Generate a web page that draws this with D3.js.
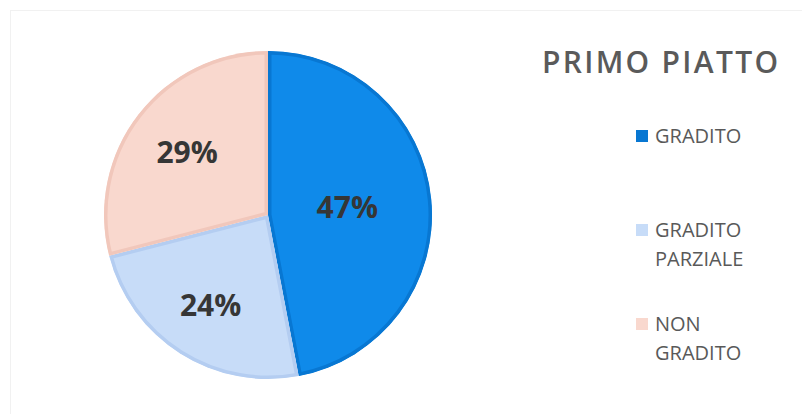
<!DOCTYPE html>
<html>
<head>
<meta charset="utf-8">
<script src="https://cdn.jsdelivr.net/npm/d3@7/dist/d3.min.js"></script>
<style>
  html, body { margin: 0; padding: 0; background: #ffffff; }
  svg { display: block; }
</style>
</head>
<body>
<svg id="chart" width="802" height="414"></svg>
<script>
// Survey results for the first course
const title = "PRIMO PIATTO";
const categories = ["GRADITO", "GRADITO PARZIALE", "NON GRADITO"];
const shares = [47, 24, 29];
const fillColors = ["#0f8aea", "#c7dcf8", "#f9d8ce"];
const edgeColors = ["#0877d2", "#b4cdf1", "#f1c7bb"];

const svg = d3.select("#chart");
const W = 802, H = 414;

// faint frame
svg.append("rect")
  .attr("x", 10.5).attr("y", 10.5)
  .attr("width", W).attr("height", H)
  .attr("fill", "none")
  .attr("stroke", "#f1f1f1");

const cx = 268, cy = 215, radius = 164;

const data = categories.map((c, i) => ({ name: c, value: shares[i], i }));

const pie = d3.pie().sort(null).value(d => d.value);
const arc = d3.arc().innerRadius(0).outerRadius(radius);
const arcs = pie(data);

const g = svg.append("g").attr("transform", `translate(${cx},${cy})`);
const defs = svg.append("defs");

arcs.forEach((a, k) => {
  defs.append("clipPath").attr("id", "slice-clip-" + k)
    .append("path").attr("d", arc(a));
});

// slices with an inner darker rim
g.selectAll("path.slice")
  .data(arcs)
  .join("path")
  .attr("class", "slice")
  .attr("d", arc)
  .attr("clip-path", (d, k) => `url(#slice-clip-${k})`)
  .attr("fill", d => fillColors[d.data.i])
  .attr("stroke", d => edgeColors[d.data.i])
  .attr("stroke-width", 7)
  .attr("stroke-linejoin", "round");

// percentage labels placed near each sector's area centroid
const total = d3.sum(shares);
g.selectAll("text.pct")
  .data(arcs)
  .join("text")
  .attr("class", "pct")
  .attr("transform", d => {
    const span = d.endAngle - d.startAngle;
    const mid = (d.startAngle + d.endAngle) / 2;
    const r = 1.08 * (4 * radius * Math.sin(span / 2)) / (3 * span);
    return `translate(${r * Math.sin(mid)},${-r * Math.cos(mid)})`;
  })
  .attr("text-anchor", "middle")
  .attr("dy", "0.36em")
  .attr("font-family", "'Open Sans', sans-serif")
  .attr("font-weight", 700)
  .attr("font-size", 30)
  .attr("fill", "#363636")
  .text(d => Math.round(d.data.value / total * 100) + "%");

// title
svg.append("text")
  .attr("x", 542).attr("y", 73)
  .attr("font-family", "'Open Sans', sans-serif")
  .attr("font-weight", 600)
  .attr("font-size", 30)
  .attr("fill", "#5a5a5a")
  .attr("textLength", 236)
  .attr("lengthAdjust", "spacing")
  .text(title);

// legend
const legendX = 636, legendY = 143, legendStep = 94, lineStep = 29;
const legend = svg.append("g");
data.forEach((d, i) => {
  const y = legendY + i * legendStep;
  legend.append("rect")
    .attr("x", legendX).attr("y", y - 13)
    .attr("width", 12).attr("height", 12)
    .attr("fill", i === 0 ? edgeColors[i] : fillColors[i]);
  const t = legend.append("text")
    .attr("x", legendX + 19).attr("y", y)
    .attr("font-family", "'Open Sans', sans-serif")
    .attr("font-size", 20)
    .attr("fill", "#595959");
  d.name.split(" ").forEach((w, j) => {
    t.append("tspan")
      .attr("x", legendX + 19)
      .attr("y", y + j * lineStep)
      .text(w);
  });
});
</script>
</body>
</html>
